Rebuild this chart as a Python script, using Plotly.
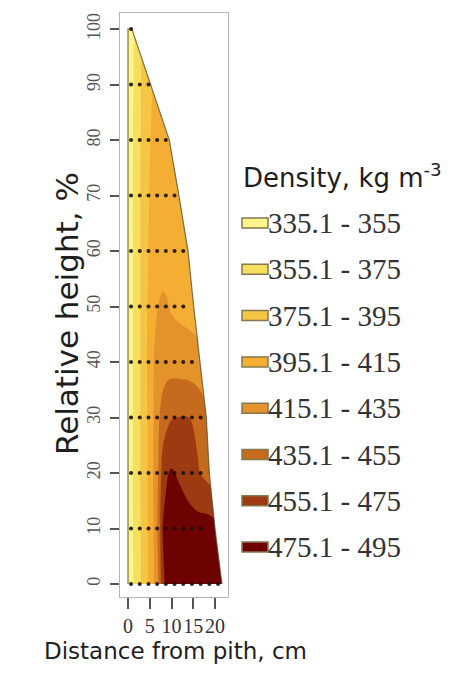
import plotly.graph_objects as go

# ---------------- data ----------------
# grid of density estimates (kg m-3): rows = relative height (%), cols = distance from pith (cm)
dist_cm = [0, 1, 2, 3, 4, 5, 6, 7, 8, 9, 10, 12, 14, 16, 18, 20, 22, 24]
height_pct = [0, 10, 20, 30, 40, 50, 60, 70, 80, 90, 100]
density = [
    [340, 352, 364, 375, 387, 400, 415, 435, 470, 482, 486, 488, 488, 487, 486, 485, 484, 483],
    [341, 353, 365, 376, 388, 401, 417, 440, 476, 481, 484, 485, 484, 483, 484, 482, 480, 479],
    [342, 354, 366, 377, 389, 402, 418, 436, 465, 474, 477, 472, 465, 457, 450, 445, 442, 440],
    [342, 354, 366, 377, 389, 402, 417, 432, 444, 450, 454, 455.5, 455, 451, 442, 436, 432, 430],
    [342, 354, 366, 377, 390, 404, 416, 422, 425, 427, 427, 426, 425, 422, 418, 412, 408, 405],
    [342, 354, 366, 377, 390, 401, 409, 415.5, 418, 416.5, 413, 410, 408, 406, 404, 402, 400, 399],
    [342, 354, 366, 377, 389, 398, 403, 406, 407, 407, 406, 405, 404, 403, 402, 401, 400, 400],
    [342, 354, 366, 377, 388, 396, 401, 403, 404, 404, 404, 403, 402, 401, 400, 400, 399, 399],
    [341, 353, 365, 376, 387, 394, 399, 401, 402, 402, 402, 401, 400, 399, 399, 398, 398, 398],
    [340, 352, 364, 375, 385, 392, 397, 399, 400, 400, 400, 399, 399, 398, 398, 398, 397, 397],
    [338, 350, 362, 373, 383, 390, 395, 397, 398, 398, 398, 397, 397, 396, 396, 396, 395, 395],
]

# stem profile (outer radius, cm) at each relative height
profile_height = [0, 10, 20, 30, 40, 50, 60, 70, 80, 90, 100]
profile_radius = [21.6, 20.0, 18.7, 18.0, 16.6, 15.1, 13.8, 11.7, 9.5, 5.2, 0.9]

# sampling points: number of samples per height, positions along the radius
sample_height = [0, 10, 20, 30, 40, 50, 60, 70, 80, 90, 100]
sample_count = [11, 9, 9, 9, 8, 7, 7, 6, 5, 3, 1]
sample_pos = [0.7, 2.7, 4.7, 6.7, 8.7, 10.7, 12.7, 14.7, 16.7, 18.7, 20.7]

# legend classes
class_labels = ["335.1 - 355", "355.1 - 375", "375.1 - 395", "395.1 - 415",
                "415.1 - 435", "435.1 - 455", "455.1 - 475", "475.1 - 495"]
class_colors = ["#FBF58C", "#F6DE5E", "#F5C643", "#F3AE33",
                "#E4922B", "#C66B1D", "#9E3A12", "#6D0200"]

x_ticks = [0, 5, 10, 15, 20]
y_ticks = [0, 10, 20, 30, 40, 50, 60, 70, 80, 90, 100]

# ---------------- layout helpers ----------------
OFF = 8                      # page body margin
W, H = 466 - OFF, 679 - OFF  # figure size
L, T = 120 - OFF, 13 - OFF   # plot area top-left (figure px)
PW, PH = 108, 584
R, B = W - L - PW, H - T - PH


def xp(px):   # page px -> paper
    return (px - OFF - L) / PW


def yp(py):
    return 1 - (py - OFF - T) / PH


fig = go.Figure()

fig.add_trace(go.Contour(
    x=dist_cm, y=height_pct, z=density,
    autocontour=False,
    contours=dict(start=355, end=475, size=20, coloring="fill", showlines=False),
    colorscale=[[k / 7, c] for k, c in enumerate(class_colors)],
    showscale=False,
    line=dict(width=0, smoothing=1.0),
    hoverinfo="skip",
))

# white mask outside the stem profile
mx = [0] + profile_radius[::-1] + [30, 30, 0]
my = [100] + profile_height[::-1] + [0, 105, 105]
fig.add_trace(go.Scatter(
    x=mx, y=my, mode="lines", fill="toself", fillcolor="white",
    line=dict(width=0), hoverinfo="skip", showlegend=False,
))

# stem outline
ox = [0, 0] + profile_radius[::-1]
oy = [0, 100] + profile_height[::-1]
fig.add_trace(go.Scatter(
    x=ox, y=oy, mode="lines", line=dict(color="rgba(80,75,45,0.75)", width=1.2),
    hoverinfo="skip", showlegend=False,
))

# sample points
px_, py_ = [], []
for h, n in zip(sample_height, sample_count):
    for i in range(n):
        px_.append(sample_pos[i])
        py_.append(h)
fig.add_trace(go.Scatter(
    x=px_, y=py_, mode="markers",
    marker=dict(size=4, color="rgba(25,15,10,0.9)"),
    hoverinfo="skip", showlegend=False,
))

# ---------------- legend (manual) ----------------
ann = []
shapes = []
ann.append(dict(
    text="Density, kg m<sup>-3</sup>", xref="paper", yref="paper",
    x=xp(241), y=yp(176), xanchor="left", yanchor="middle", showarrow=False,
    font=dict(family="DejaVu Sans", size=26, color="#1e1e1e"),
))
for k, (lab, col) in enumerate(zip(class_labels, class_colors)):
    cy = 223 + 46.3 * k
    shapes.append(dict(
        type="rect", xref="paper", yref="paper",
        x0=xp(242), x1=xp(268), y0=yp(cy + 5), y1=yp(cy - 5),
        fillcolor=col, line=dict(color="#85784f", width=1.5), layer="above",
    ))
    ann.append(dict(
        text=lab, xref="paper", yref="paper",
        x=xp(266), y=yp(cy), xanchor="left", yanchor="middle", showarrow=False,
        font=dict(family="Liberation Serif", size=29, color="#333333"),
    ))

# axis titles
ann.append(dict(
    text="Distance from pith, cm", xref="paper", yref="paper",
    x=xp(175), y=yp(651), xanchor="center", yanchor="middle", showarrow=False,
    font=dict(family="DejaVu Sans", size=23, color="#1e1e1e"),
))
ann.append(dict(
    text="Relative height, %", xref="paper", yref="paper", textangle=-90,
    x=xp(67), y=yp(314), xanchor="center", yanchor="middle", showarrow=False,
    font=dict(family="DejaVu Sans", size=31, color="#1e1e1e"),
))

fig.update_layout(
    width=W, height=H,
    margin=dict(l=L, r=R, t=T, b=B),
    paper_bgcolor="white", plot_bgcolor="white",
    showlegend=False,
    annotations=ann, shapes=shapes,
    xaxis=dict(
        range=[-1.84, 22.99], tickmode="array", tickvals=x_ticks,
        ticktext=[str(v) for v in x_ticks], tickangle=0,
        ticks="outside", ticklen=11, tickwidth=1.5, tickcolor="#555555",
        showline=True, mirror=True, linecolor="#b5b5b5", linewidth=1,
        showgrid=False, zeroline=False,
        tickfont=dict(family="Liberation Serif", size=20, color="#333333"),
        ticklabelstandoff=0,
    ),
    yaxis=dict(
        range=[-2.34, 102.9], tickmode="array", tickvals=y_ticks,
        ticktext=[str(v) for v in y_ticks], tickangle=-90,
        ticks="outside", ticklen=9, tickwidth=1.5, tickcolor="#555555",
        showline=True, mirror=True, linecolor="#b5b5b5", linewidth=1,
        showgrid=False, zeroline=False,
        tickfont=dict(family="Liberation Serif", size=18, color="#555555"),
        ticklabelstandoff=3,
    ),
)

fig.write_html("out.html")
